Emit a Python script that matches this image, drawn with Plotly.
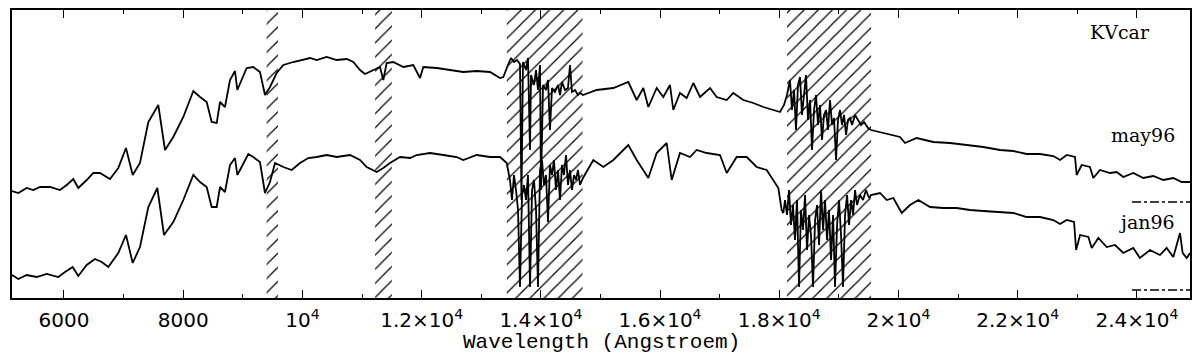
import plotly.graph_objects as go

# ---- data (flux in arbitrary units, offset spectra) ----
may96_wl = [5128, 5234, 5375, 5485, 5598, 5765, 5933, 6046, 6156, 6240, 6381, 6492, 6604, 6772, 6911,
            7040, 7153, 7275, 7415, 7582, 7695, 7834, 8002, 8170, 8282, 8394, 8478, 8562, 8618, 8701,
            8785, 8869, 8908, 8953, 9065, 9176, 9288, 9372, 9456, 9568, 9680, 9847, 10015, 10127,
            10240, 10407, 10575, 10743, 10854, 10966, 11050, 11189, 11301, 11357, 11413, 11525, 11693,
            11860, 11973, 12028, 12253, 12476, 12699, 12924, 13147, 13315, 13370,
            13449, 13499, 13549, 13600, 13650, 13675, 13700, 13751, 13784, 13818, 13835, 13885, 13919,
            13952, 13986, 14002, 14036, 14086, 14120, 14153, 14187, 14237, 14288, 14321, 14355, 14405,
            14455, 14489, 14522, 14573, 14623, 14657, 14707,
            14937, 15216, 15467, 15608, 15719, 15803, 15943, 16054, 16166, 16222, 16334, 16446, 16558,
            16670, 16838, 16950, 17118, 17228, 17396, 17564, 17732, 17900, 18012, 18079,
            18129, 18179, 18213, 18247, 18280, 18314, 18348, 18381, 18415, 18448, 18482, 18516, 18549,
            18583, 18616, 18650, 18683, 18717, 18750, 18784, 18817, 18851, 18885, 18918, 18952, 18985,
            19019, 19052, 19086, 19120, 19153, 19187, 19220, 19271, 19321, 19371, 19421, 19489, 19539,
            19745, 20025, 20109, 20305, 20584, 20864, 21144, 21423, 21703, 21926, 22150, 22374, 22597,
            22710, 22822, 22961, 22989, 23073, 23212, 23268, 23380, 23548, 23660, 23771, 23939, 24107,
            24275, 24442, 24610, 24751, 24890]
may96_flux = [107, 105, 110, 108, 111, 111, 108, 113, 119, 110, 118, 125, 125, 119, 130,
              150, 123, 135, 176, 193, 148, 161, 181, 207, 201, 196, 176, 175, 196, 191,
              218, 227, 208, 214, 230, 231, 226, 203, 211, 225, 233, 236, 238, 240,
              238, 241, 238, 239, 236, 228, 224, 228, 231, 218, 235, 236, 231,
              233, 220, 231, 230, 228, 226, 227, 226, 220, 221,
              233, 240, 236, 238, 234, 98, 236, 228, 240, 148, 223, 213, 228,
              208, 233, 108, 213, 208, 218, 168, 210, 206, 213, 203, 216, 208,
              210, 233, 206, 208, 203, 205, 203,
              208, 210, 216, 198, 210, 191, 210, 201, 213, 188, 205, 200, 215,
              201, 210, 201, 198, 205, 198, 195, 191, 188, 186, 193,
              203, 218, 188, 208, 168, 213, 221, 183, 203, 223, 178, 198, 148,
              188, 203, 173, 193, 158, 183, 188, 168, 198, 173, 180, 138, 178,
              188, 173, 183, 163, 178, 180, 173, 183, 178, 173, 176, 170, 168,
              165, 161, 155, 160, 156, 155, 153, 151, 148, 147, 144, 144, 142,
              138, 143, 141, 123, 133, 131, 120, 128, 125, 126, 121, 125, 120,
              122, 118, 120, 116, 116]

jan96_wl = [5128, 5234, 5375, 5542, 5710, 5905, 6017, 6146, 6240, 6381, 6520, 6633, 6744, 6911,
            7040, 7153, 7275, 7415, 7566, 7678, 7834, 8002, 8170, 8282, 8394, 8478, 8562, 8618, 8701,
            8785, 8869, 8908, 8953, 9092, 9176, 9288, 9372, 9456, 9540, 9680, 9820, 9960, 10099,
            10240, 10407, 10575, 10798, 10966, 11078, 11246, 11357, 11469, 11637, 11805, 11917,
            12140, 12364, 12588, 12699, 12924, 13147, 13315, 13427,
            13482, 13516, 13549, 13583, 13617, 13650, 13684, 13717, 13751, 13784, 13818, 13852, 13885,
            13919, 13952, 13986, 14019, 14053, 14086, 14120, 14153, 14187, 14220, 14254, 14288, 14321,
            14355, 14388, 14422, 14455, 14489, 14522, 14556, 14590, 14623, 14657, 14707,
            14880, 15048, 15216, 15467, 15608, 15803, 15943, 16111, 16195, 16334, 16502, 16614, 16782,
            17005, 17118, 17285, 17453, 17621, 17789, 17900, 17984, 18040, 18068,
            18096, 18129, 18163, 18196, 18230, 18263, 18297, 18331, 18364, 18398, 18432, 18465, 18499,
            18532, 18566, 18600, 18633, 18667, 18700, 18734, 18767, 18801, 18834, 18868, 18902, 18935,
            18969, 19002, 19036, 19069, 19103, 19137, 19170, 19204, 19237, 19271, 19304, 19354, 19405,
            19455, 19505, 19539,
            19690, 19802, 19913, 20054, 20193, 20333, 20529, 20751, 20976, 21199, 21423, 21647, 21926,
            22150, 22374, 22597, 22710, 22822, 22945, 22979, 23046, 23185, 23241, 23352, 23493, 23632,
            23771, 23939, 24050, 24218, 24386, 24498, 24610, 24722, 24767, 24835, 24890]
jan96_flux = [23, 19, 23, 21, 24, 21, 26, 31, 22, 33, 39, 36, 31, 45,
              63, 35, 51, 91, 110, 63, 76, 98, 123, 116, 111, 91, 91, 111, 106,
              133, 140, 123, 128, 144, 141, 136, 105, 116, 135, 131, 128, 135, 140,
              141, 143, 141, 143, 138, 131, 126, 130, 135, 141, 140, 143,
              145, 143, 141, 138, 143, 141, 141, 135,
              118, 98, 123, 108, 88, 11, 103, 113, 98, 123, 11, 108, 118,
              88, 11, 128, 138, 113, 123, 76, 133, 123, 138, 108, 128, 98,
              133, 123, 143, 113, 128, 108, 123, 118, 128, 113, 120,
              138, 131, 138, 153, 138, 120, 145, 155, 118, 145, 141, 148, 145,
              143, 125, 141, 141, 131, 128, 118, 110, 88, 85,
              98, 83, 108, 73, 93, 58, 98, 11, 88, 68, 103, 48, 83,
              63, 11, 78, 93, 53, 108, 68, 98, 58, 88, 38, 83, 11,
              73, 98, 63, 11, 83, 103, 73, 98, 83, 108, 93, 103, 98,
              108, 100, 103,
              105, 98, 100, 85, 93, 98, 91, 90, 90, 88, 87, 86, 85,
              81, 81, 78, 74, 78, 76, 48, 63, 61, 50, 60, 51, 53,
              45, 50, 40, 48, 43, 50, 41, 65, 45, 40, 45]

hatch_start = [9400, 11220, 13430, 18130]
hatch_end = [9590, 11500, 14700, 19540]

zero_levels = [96, 8]
zero_span = [23917, 24890]

tick_vals = [6000, 8000, 10000, 12000, 14000, 16000, 18000, 20000, 22000, 24000]
tick_text = ["6000", "8000", "10<sup>4</sup>", "1.2×10<sup>4</sup>", "1.4×10<sup>4</sup>",
             "1.6×10<sup>4</sup>", "1.8×10<sup>4</sup>", "2×10<sup>4</sup>", "2.2×10<sup>4</sup>",
             "2.4×10<sup>4</sup>"]

x_range = [5128, 24890]
y_range = [0, 288]

label_text = ["KVcar", "may96", "jan96"]
label_x = [24253, 24672, 24672]
label_y = [266, 163, 76]

fig = go.Figure()

# hatched (telluric) regions
for lo, hi in zip(hatch_start, hatch_end):
    fig.add_trace(go.Scatter(
        x=[lo, hi, hi, lo, lo],
        y=[y_range[0], y_range[0], y_range[1], y_range[1], y_range[0]],
        mode="lines", fill="toself", line=dict(width=0, color="rgba(0,0,0,0)"),
        fillcolor="rgba(0,0,0,0)",
        fillpattern=dict(shape="/", size=10, solidity=0.12, fgcolor="black", fgopacity=1,
                         bgcolor="rgba(0,0,0,0)"),
        hoverinfo="skip", showlegend=False))

for wl, fl in ((may96_wl, may96_flux), (jan96_wl, jan96_flux)):
    fig.add_trace(go.Scatter(x=wl, y=fl, mode="lines",
                             line=dict(color="black", width=1.8), showlegend=False))

for lvl in zero_levels:
    fig.add_trace(go.Scatter(x=zero_span, y=[lvl, lvl], mode="lines",
                             line=dict(color="black", width=1.5, dash="dashdot"),
                             showlegend=False))

for t, x, y in zip(label_text, label_x, label_y):
    fig.add_annotation(x=x, y=y, text=t, showarrow=False, xanchor="right", yanchor="middle",
                       font=dict(family="DejaVu Serif", size=19, color="black"))

fig.add_annotation(x=0.5, y=-0.156, xref="paper", yref="paper", text="Wavelength (Angstroem)",
                   showarrow=False, xanchor="center", yanchor="middle",
                   font=dict(family="Liberation Mono", size=21, color="black"))

fig.update_xaxes(range=x_range, showline=True, linecolor="black", linewidth=2, mirror="ticks",
                 ticks="inside", ticklen=8, tickwidth=1.4, tickcolor="black",
                 tickvals=tick_vals, ticktext=tick_text, showgrid=False, zeroline=False,
                 ticklabelstandoff=3, automargin=False,
                 minor=dict(ticks="inside", dtick=1000, tick0=0, ticklen=4, tickcolor="black",
                            tickwidth=1.2, showgrid=False),
                 tickfont=dict(family="DejaVu Sans", size=20, color="black"))
fig.update_yaxes(range=y_range, showline=True, linecolor="black", linewidth=2, mirror=True,
                 ticks="", showticklabels=False, showgrid=False, zeroline=False, automargin=False)

# page body adds an 8px margin, so the figure is sized/margined to land on the reference frame
fig.update_layout(width=1192, height=355, margin=dict(l=4, r=10, t=2, b=65),
                  plot_bgcolor="white", paper_bgcolor="white")

fig.write_html("out.html")
